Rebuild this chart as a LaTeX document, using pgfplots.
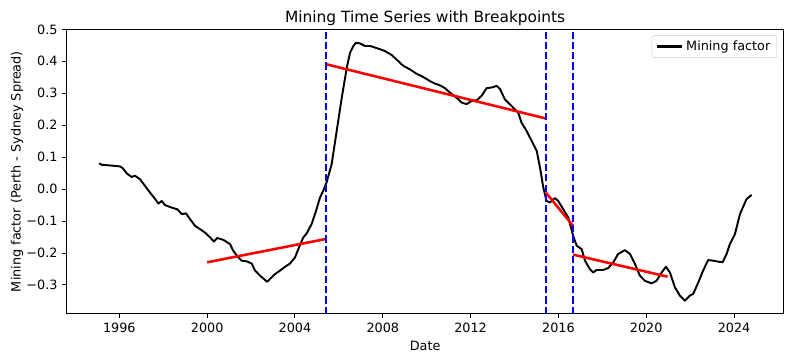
\documentclass[border=0pt]{standalone}
\usepackage{pgfplots}
\pgfplotsset{compat=1.18}
\usepackage{pgfplotstable}
\usepackage{fontspec}
\setmainfont{DejaVu Sans}

\pgfplotstableread{
x y
1995.08 0.081
1995.20 0.076
1995.43 0.075
1995.73 0.073
1996.03 0.071
1996.15 0.066
1996.34 0.049
1996.56 0.038
1996.71 0.042
1996.94 0.031
1997.17 0.010
1997.40 -0.011
1997.63 -0.031
1997.78 -0.045
1997.93 -0.037
1998.08 -0.050
1998.39 -0.058
1998.64 -0.063
1998.84 -0.078
1999.04 -0.076
1999.22 -0.094
1999.45 -0.115
1999.67 -0.125
1999.90 -0.136
2000.13 -0.151
2000.31 -0.164
2000.46 -0.153
2000.74 -0.159
2001.04 -0.172
2001.19 -0.193
2001.35 -0.208
2001.57 -0.224
2001.80 -0.226
2002.03 -0.233
2002.18 -0.255
2002.41 -0.271
2002.63 -0.284
2002.74 -0.290
2002.86 -0.281
2003.09 -0.266
2003.32 -0.255
2003.55 -0.243
2003.77 -0.233
2004.00 -0.214
2004.15 -0.188
2004.38 -0.151
2004.53 -0.139
2004.76 -0.109
2004.96 -0.068
2005.14 -0.026
2005.29 -0.005
2005.44 0.021
2005.67 0.078
2005.90 0.182
2006.13 0.286
2006.36 0.380
2006.51 0.427
2006.66 0.448
2006.78 0.458
2006.96 0.456
2007.19 0.448
2007.42 0.448
2007.65 0.443
2007.87 0.438
2008.10 0.432
2008.40 0.420
2008.70 0.401
2008.93 0.386
2009.23 0.375
2009.54 0.361
2009.84 0.351
2010.15 0.338
2010.38 0.330
2010.60 0.325
2010.83 0.316
2011.06 0.302
2011.36 0.286
2011.59 0.271
2011.82 0.266
2012.05 0.276
2012.28 0.278
2012.50 0.292
2012.73 0.316
2012.96 0.318
2013.19 0.323
2013.34 0.313
2013.56 0.281
2013.87 0.260
2014.17 0.239
2014.32 0.208
2014.55 0.182
2014.78 0.151
2015.01 0.120
2015.16 0.068
2015.31 0.005
2015.46 -0.037
2015.61 -0.042
2015.84 -0.028
2015.99 -0.037
2016.22 -0.063
2016.45 -0.089
2016.67 -0.146
2016.83 -0.177
2017.06 -0.188
2017.21 -0.224
2017.43 -0.250
2017.58 -0.261
2017.74 -0.253
2018.04 -0.253
2018.27 -0.247
2018.50 -0.229
2018.72 -0.203
2019.03 -0.191
2019.26 -0.203
2019.48 -0.233
2019.71 -0.271
2019.94 -0.287
2020.24 -0.295
2020.47 -0.287
2020.70 -0.261
2020.90 -0.243
2021.08 -0.261
2021.31 -0.308
2021.53 -0.333
2021.76 -0.349
2021.99 -0.333
2022.14 -0.328
2022.37 -0.292
2022.59 -0.255
2022.82 -0.222
2023.05 -0.224
2023.28 -0.227
2023.48 -0.229
2023.66 -0.203
2023.81 -0.172
2024.04 -0.141
2024.27 -0.078
2024.57 -0.031
2024.80 -0.018
}\mining

\begin{document}
\begin{tikzpicture}
\begin{axis}[
  name=ax,
  scale only axis,
  width=537.75pt, height=213.3pt,
  xmin=1993.6, xmax=2026.26,
  ymin=-0.39, ymax=0.5,
  axis line style={line width=0.77pt},
  tick align=outside,
  tick pos=left,
  major tick length=3.36pt,
  tick style={line width=0.77pt, black},
  xtick={1996,2000,2004,2008,2012,2016,2020,2024},
  xticklabels={1996,2000,2004,2008,2012,2016,2020,2024},
  ytick={-0.3,-0.2,-0.1,0,0.1,0.2,0.3,0.4,0.5},
  yticklabels={−0.3,−0.2,−0.1,0.0,0.1,0.2,0.3,0.4,0.5},
  ticklabel style={font=\fontsize{9.6}{11}\selectfont},
  title={Mining Time Series with Breakpoints},
  title style={font=\fontsize{11.55}{13}\selectfont, at={(axis description cs:0.5,1.047)}, anchor=center, yshift=-7.5pt},
  xlabel={Date},
  xlabel style={font=\fontsize{9.6}{11}\selectfont, at={(axis description cs:0.5,-0.1136)}, anchor=center},
  ylabel={Mining factor (Perth - Sydney Spread)},
  ylabel style={font=\fontsize{9.6}{11}\selectfont, at={(axis description cs:-0.0693,0.5)}, anchor=center},
  legend style={at={(axis description cs:0.991,0.980)}, anchor=north east, draw=black!20, rounded corners=2pt, font=\fontsize{9.6}{11}\selectfont, inner xsep=3pt, inner ysep=2pt},
  legend cell align=left,
]
\addplot[black, line width=1.44pt, line join=round,
  legend image code/.code={\draw[black, line width=1.6pt] (0pt,0pt) -- (19.2pt,0pt);}] table[x=x,y=y] {\mining};
\addlegendentry{Mining factor}
\addplot[red, line width=1.92pt, forget plot] coordinates {(2000.0,-0.229) (2005.41,-0.156)};
\addplot[red, line width=1.92pt, forget plot] coordinates {(2005.41,0.391) (2015.43,0.221)};
\addplot[red, line width=1.92pt, forget plot] coordinates {(2015.43,-0.011) (2016.67,-0.115)};
\addplot[red, line width=1.92pt, forget plot] coordinates {(2016.67,-0.205) (2020.97,-0.274)};
\addplot[blue, line width=1.44pt, dash pattern=on 5.33pt off 2.3pt, forget plot] coordinates {(2005.41,-0.39) (2005.41,0.5)};
\addplot[blue, line width=1.44pt, dash pattern=on 5.33pt off 2.3pt, forget plot] coordinates {(2015.43,-0.39) (2015.43,0.5)};
\addplot[blue, line width=1.44pt, dash pattern=on 5.33pt off 2.3pt, forget plot] coordinates {(2016.67,-0.39) (2016.67,0.5)};
\end{axis}
\pgfresetboundingbox
\path (ax.south west) ++(-50pt,-36.2pt) rectangle ++(594.75pt,271.5pt);
\end{tikzpicture}
\end{document}
